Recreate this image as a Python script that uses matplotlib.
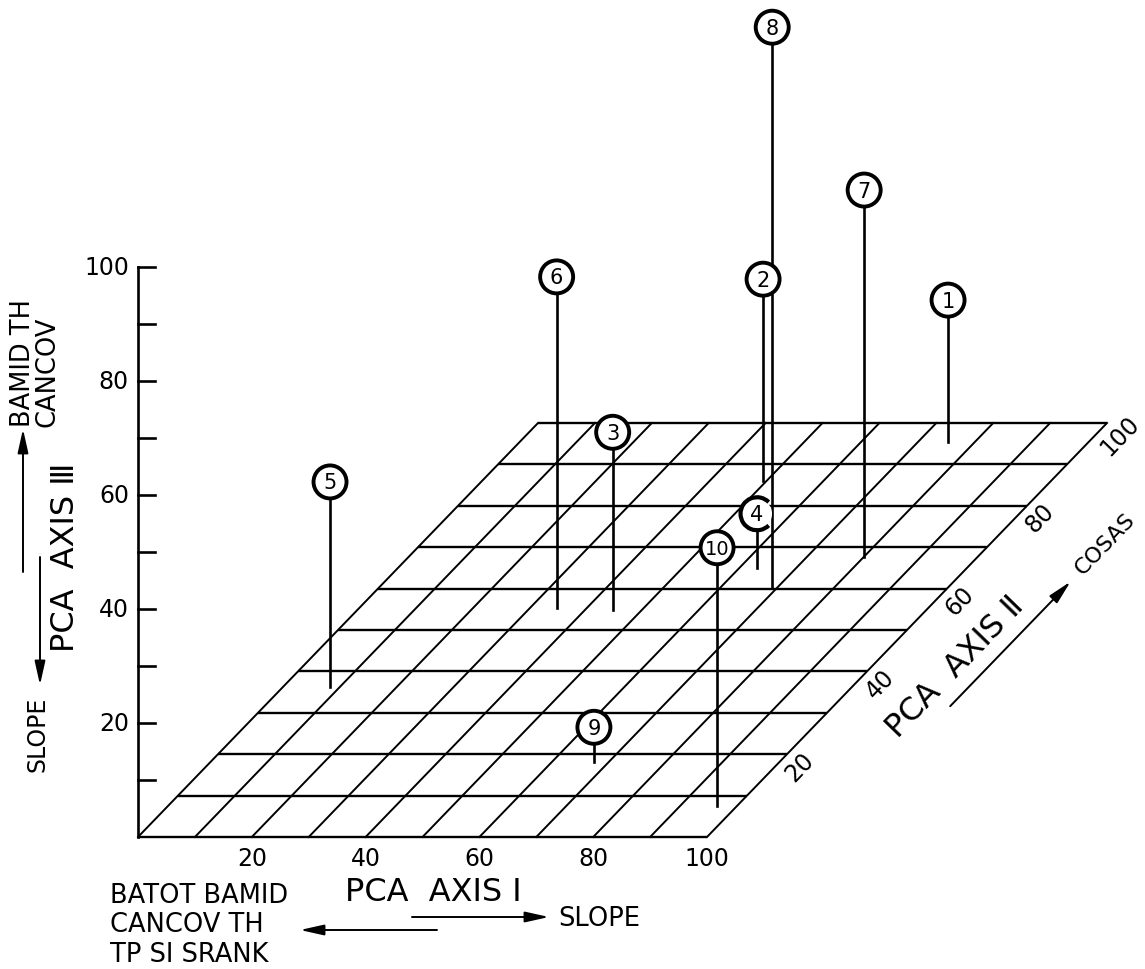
import numpy as np
from matplotlib import pyplot as plt
from matplotlib.patches import Circle, Arc

plt.rcParams['font.family'] = ['DejaVu Sans']

# site positions on the three PCA axes
sites = ['1', '2', '3', '4', '5', '6', '7', '8', '9', '10']
axis_1 = [75.3, 49.4, 44.9, 63.1, 8.3, 34.7, 80.1, 69.0, 67.4, 96.5]
axis_2 = [95.4, 86.0, 54.8, 65.0, 36.2, 55.3, 67.6, 60.4, 18.1, 7.5]
axis_3 = [24.9, 35.4, 31.2, 9.5, 36.0, 58.1, 64.4, 98.2, 6.1, 45.3]
open_marker = ['4']

grid_values = list(range(0, 101, 10))
label_values = [20, 40, 60, 80, 100]

# oblique drawing: pixel origin and pixel length of one unit on each axis
ORIGIN = (138.0, 838.0)
EX = (5.69, 0.0)
EY = (4.0, -4.14)
EZ = (0.0, -5.7)
LW = 1.7
TICK_FS = 17
NOTE_FS = 18.5
TITLE_FS = 23


def proj(a, b, c=0.0):
    a, b, c = np.asarray(a, float), np.asarray(b, float), np.asarray(c, float)
    px = ORIGIN[0] + a * EX[0] + b * EY[0] + c * EZ[0]
    py = ORIGIN[1] + a * EX[1] + b * EY[1] + c * EZ[1]
    return px, py


def arrow(ax, start, end, lw=1.4):
    ax.annotate('', xy=end, xytext=start,
                arrowprops=dict(arrowstyle='-|>,head_length=0.9,head_width=0.2',
                                color='black', lw=lw, shrinkA=0, shrinkB=0,
                                mutation_scale=16))


fig = plt.figure(figsize=(11.45, 9.7), dpi=100)
ax = fig.add_axes([0, 0, 1, 1])
ax.set_xlim(0, 1145)
ax.set_ylim(970, 0)
ax.axis('off')

# floor grid
for v in grid_values:
    xs, ys = proj([0, 100], [v, v])
    ax.plot(xs, ys, color='black', lw=LW, solid_capstyle='butt', zorder=2)
    xs, ys = proj([v, v], [0, 100])
    ax.plot(xs, ys, color='black', lw=LW - 0.3, zorder=2)

# vertical axis III
xs, ys = proj([0, 0], [0, 0], [0, 100])
ax.plot(xs, ys, color='black', lw=LW + 0.2, zorder=2)
for v in grid_values[1:]:
    tx, ty = proj(0, 0, v)
    ax.plot([tx, tx + 17], [ty, ty], color='black', lw=LW + 0.2, zorder=2)

# tick labels
for v in label_values:
    tx, ty = proj(0, 0, v)
    ax.text(tx - 9, ty, str(v), ha='right', va='center', fontsize=TICK_FS)
    tx, ty = proj(v, 0)
    ax.text(tx, ty + 21, str(v), ha='center', va='center', fontsize=TICK_FS)
    tx, ty = proj(100, v)
    ax.text(tx + 13, ty + 12, str(v), ha='center', va='center',
            fontsize=TICK_FS, rotation=46, rotation_mode='anchor')

# stems and numbered circles
for name, a, b, c in zip(sites, axis_1, axis_2, axis_3):
    fx, fy = proj(a, b)
    tx, ty = proj(a, b, c)
    ax.plot([fx, tx], [fy, ty], color='black', lw=LW + 0.2, zorder=3)
    if name in open_marker:
        ax.add_patch(Circle((tx, ty), 15, fc='white', ec='none', zorder=3.5))
        ax.add_patch(Arc((tx, ty), 33, 33, theta1=45, theta2=315,
                         color='black', lw=3.0, zorder=4))
    else:
        ax.add_patch(Circle((tx, ty), 16.5, fc='white', ec='black',
                            lw=2.8, zorder=4))
    ax.text(tx, ty + 0.5, name, ha='center', va='center',
            fontsize=14 if len(name) > 1 else 15, zorder=5)

# axis I titles
ax.text(433, 893, 'PCA  AXIS Ⅰ', ha='center', va='center', fontsize=TITLE_FS)
arrow(ax, (412, 918), (549, 918))
ax.text(558, 919, 'SLOPE', ha='left', va='center', fontsize=NOTE_FS)
arrow(ax, (437, 931), (300, 931))
ax.text(110, 896, 'BATOT BAMID', ha='left', va='center', fontsize=NOTE_FS)
ax.text(110, 925, 'CANCOV TH', ha='left', va='center', fontsize=NOTE_FS)
ax.text(110, 955, 'TP SI SRANK', ha='left', va='center', fontsize=NOTE_FS)

# axis III titles
ax.text(65, 557, 'PCA  AXIS Ⅲ', ha='center', va='center', fontsize=TITLE_FS,
        rotation=90)
ax.text(23, 427, 'BAMID TH', ha='left', va='center', fontsize=NOTE_FS,
        rotation=90, rotation_mode='anchor')
ax.text(48, 427, 'CANCOV', ha='left', va='center', fontsize=NOTE_FS,
        rotation=90, rotation_mode='anchor')
arrow(ax, (23, 573), (23, 430))
arrow(ax, (40, 558), (40, 686))
ax.text(37, 772, 'SLOPE', ha='left', va='center', fontsize=17,
        rotation=90, rotation_mode='anchor')

# axis II titles
nx, ny = 0.719, 0.695
ex_, ey_ = proj(100, 51.3)
ax.text(ex_ + 60 * nx, ey_ + 60 * ny, 'PCA  AXIS Ⅱ', ha='center', va='center',
        fontsize=TITLE_FS, rotation=46, rotation_mode='anchor')
sx, sy = proj(100, 45.7)
tx, ty = proj(100, 75.8)
arrow(ax, (sx + 84 * nx, sy + 84 * ny), (tx + 84 * nx, ty + 84 * ny))
cx, cy = proj(100, 84.8)
ax.text(cx + 82 * nx, cy + 82 * ny, 'COSAS', ha='center', va='center',
        fontsize=16, rotation=46, rotation_mode='anchor')

fig.savefig('out.png', dpi=100)
